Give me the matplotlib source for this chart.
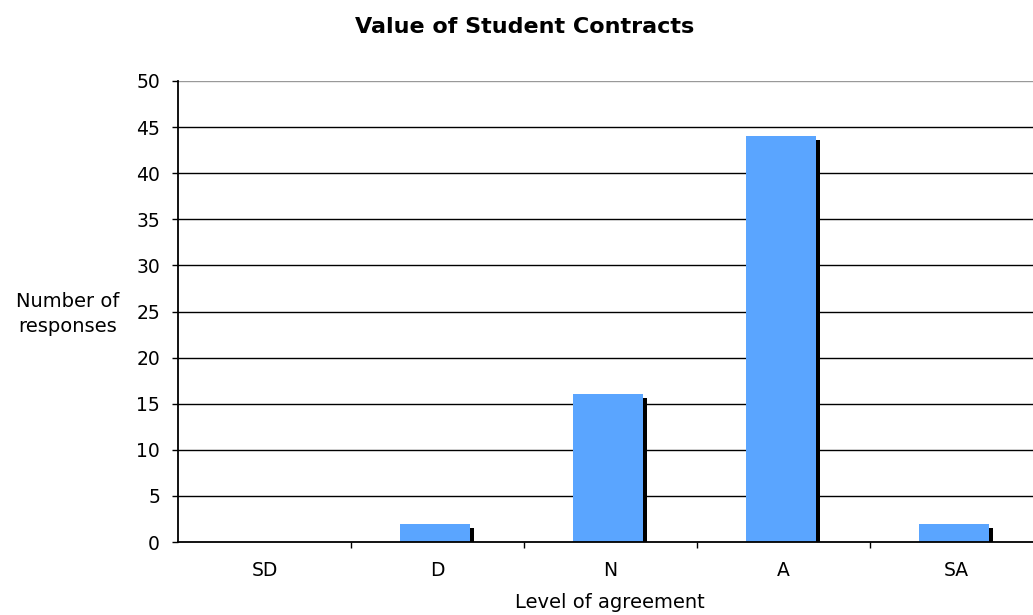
import matplotlib
matplotlib.use("Agg")
import matplotlib.pyplot as plt
from matplotlib.patches import Rectangle

categories = ["SD", "D", "N", "A", "SA"]
values = [0, 2, 16, 44, 2]
yticks = [0, 5, 10, 15, 20, 25, 30, 35, 40, 45, 50]

W, H = 1033, 615
fig = plt.figure(figsize=(W / 100, H / 100), dpi=100)
left, right = 178, 1043
bottom, top = 542, 81
ax = fig.add_axes([left / W, 1 - bottom / H, (right - left) / W, (bottom - top) / H])
ax.set_xlim(0, len(categories))
ax.set_ylim(0, 50)

for y in yticks[1:]:
    ax.axhline(y, color="#999999" if y == 50 else "black", lw=1.0, zorder=1)

bw = 0.405
xs = [i + 0.5 - bw / 2 - 0.015 for i in range(len(categories))]
# shadow offsets in data units
dx = 4 / (right - left) * len(categories)
dy = 4 / (bottom - top) * 50
for x, v in zip(xs, values):
    if v <= 0:
        continue
    ax.add_patch(Rectangle((x + dx, 0), bw, v - dy, facecolor="black", edgecolor="none", zorder=2))
    ax.add_patch(Rectangle((x, 0), bw, v, facecolor="#5aa5ff", edgecolor="none", zorder=3))

fs = 13.5
ax.set_yticks(yticks)
ax.set_yticklabels([str(t) for t in yticks], fontsize=fs)
ax.set_xticks([i + 0.5 for i in range(len(categories))])
ax.set_xticklabels(categories, fontsize=fs)
ax.set_xticks(range(1, len(categories)), minor=True)
ax.tick_params(axis="x", which="major", length=0, pad=14)
ax.tick_params(axis="x", which="minor", length=4.5, width=1, color="black")
ax.tick_params(axis="y", length=4.5, width=1, pad=8.5)
for s in ["top", "right"]:
    ax.spines[s].set_visible(False)
ax.spines["left"].set_linewidth(1.3)
ax.spines["bottom"].set_linewidth(1.3)
ax.spines["bottom"].set_zorder(4)

fig.text(525 / W, 1 - 33 / H, "Value of Student Contracts", ha="center", va="baseline",
         fontsize=16, fontweight="bold")
fig.text(610 / W, 1 - 608 / H, "Level of agreement", ha="center", va="baseline", fontsize=fs + 0.5)
fig.text(68 / W, 1 - 307 / H, "Number of", ha="center", va="baseline", fontsize=fs + 0.5)
fig.text(68 / W, 1 - 332 / H, "responses", ha="center", va="baseline", fontsize=fs + 0.5)

fig.savefig("out.png", dpi=100)
